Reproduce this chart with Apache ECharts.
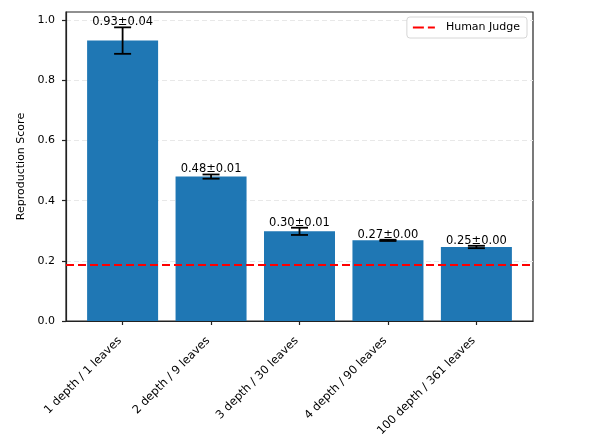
<!DOCTYPE html>
<html lang="en">
<head>
    <meta charset="UTF-8">
    <title>Reproduction Score</title>
    <script src="https://cdn.jsdelivr.net/npm/echarts@6/dist/echarts.min.js"></script>
    <style>
        * { margin: 0; padding: 0; }
        html, body { width: 612px; height: 442px; background: #fff; }
        #main { width: 612px; height: 442px; }
    </style>
</head>
<body>
<div id="main"></div>
<script>
    // data
    var categories = ['1 depth / 1 leaves', '2 depth / 9 leaves', '3 depth / 30 leaves', '4 depth / 90 leaves', '100 depth / 361 leaves'];
    var means = [0.932, 0.480, 0.298, 0.268, 0.246];
    var errors = [0.044, 0.007, 0.012, 0.002, 0.004];
    var humanJudge = 0.186;
    var yTicks = [0, 0.2, 0.4, 0.6, 0.8, 1.0];

    var font = 'DejaVu Sans';
    var xMin = -0.64, xMax = 4.64;

    var barData = means.map(function (m, i) { return [i, m]; });
    var errData = means.map(function (m, i) { return [i, m, errors[i]]; });

    var myChart = echarts.init(document.getElementById('main'));

    var option = {
        animation: false,
        textStyle: { fontFamily: font },
        grid: {
            left: 66, right: 79, top: 12, bottom: 121,
            show: true, borderColor: '#222', borderWidth: 1.2, backgroundColor: '#fff'
        },
        legend: {
            data: [{ name: 'Human Judge', icon: 'path://M0,0H11V2H0Z M15,0H22V2H15Z' }],
            right: 85, top: 17,
            padding: [5, 7, 5, 6],
            itemWidth: 22, itemHeight: 2,
            backgroundColor: '#fff',
            borderColor: '#d6d6d6', borderWidth: 1, borderRadius: 3,
            textStyle: { fontFamily: font, fontSize: 11, color: '#000', padding: [0, 0, 0, 6] }
        },
        xAxis: {
            type: 'value',
            min: xMin, max: xMax,
            axisLine: { show: true, onZero: false, lineStyle: { color: '#222', width: 1.2 } },
            axisTick: { show: true, customValues: [0, 1, 2, 3, 4], length: 4, lineStyle: { color: '#222', width: 1.2 } },
            axisLabel: {
                customValues: [0, 1, 2, 3, 4],
                rotate: 45, margin: 15,
                padding: [0, 4, 0, 0],
                fontFamily: font, fontSize: 11.5, color: '#000',
                formatter: function (v) { return categories[Math.round(v)]; }
            },
            splitLine: { show: false }
        },
        yAxis: {
            type: 'value',
            min: 0, max: 1.027,
            name: 'Reproduction Score',
            nameLocation: 'middle', nameGap: 37,
            nameTextStyle: { fontFamily: font, fontSize: 11, color: '#000' },
            axisLine: { show: true, onZero: false, lineStyle: { color: '#222', width: 1.2 } },
            axisTick: { show: true, customValues: yTicks, length: 4, lineStyle: { color: '#222', width: 1.2 } },
            axisLabel: {
                customValues: yTicks, margin: 11,
                fontFamily: font, fontSize: 11, color: '#000',
                formatter: function (v) { return v.toFixed(1); }
            },
            splitLine: { show: true, lineStyle: { color: '#e8e8e8', type: [5, 3], width: 1 } }
        },
        series: [
            {
                type: 'bar',
                data: barData,
                barWidth: 71,
                itemStyle: { color: '#1f77b4' },
                z: 2
            },
            {
                type: 'custom',
                data: errData,
                z: 4,
                renderItem: function (params, api) {
                    var x = api.value(0), m = api.value(1), e = api.value(2);
                    var top = api.coord([x, m + e]);
                    var bot = api.coord([x, m - e]);
                    var cap = 8.5;
                    var style = { stroke: '#000', lineWidth: 1.8 };
                    return {
                        type: 'group',
                        children: [
                            { type: 'line', shape: { x1: top[0], y1: top[1], x2: bot[0], y2: bot[1] }, style: style },
                            { type: 'line', shape: { x1: top[0] - cap, y1: top[1], x2: top[0] + cap, y2: top[1] }, style: style },
                            { type: 'line', shape: { x1: bot[0] - cap, y1: bot[1], x2: bot[0] + cap, y2: bot[1] }, style: style },
                            {
                                type: 'text',
                                x: top[0], y: top[1] + 1,
                                style: {
                                    text: m.toFixed(2) + '\u00b1' + e.toFixed(2),
                                    align: 'center', verticalAlign: 'bottom',
                                    fontFamily: font, fontSize: 11.5, fill: '#000'
                                }
                            }
                        ]
                    };
                }
            },
            {
                name: 'Human Judge',
                type: 'line',
                data: [[xMin, humanJudge], [xMax, humanJudge]],
                symbol: 'none',
                lineStyle: { color: '#ff0000', width: 2, type: [8, 4] },
                itemStyle: { color: '#ff0000' },
                z: 5
            }
        ]
    };

    myChart.setOption(option);
</script>
</body>
</html>
